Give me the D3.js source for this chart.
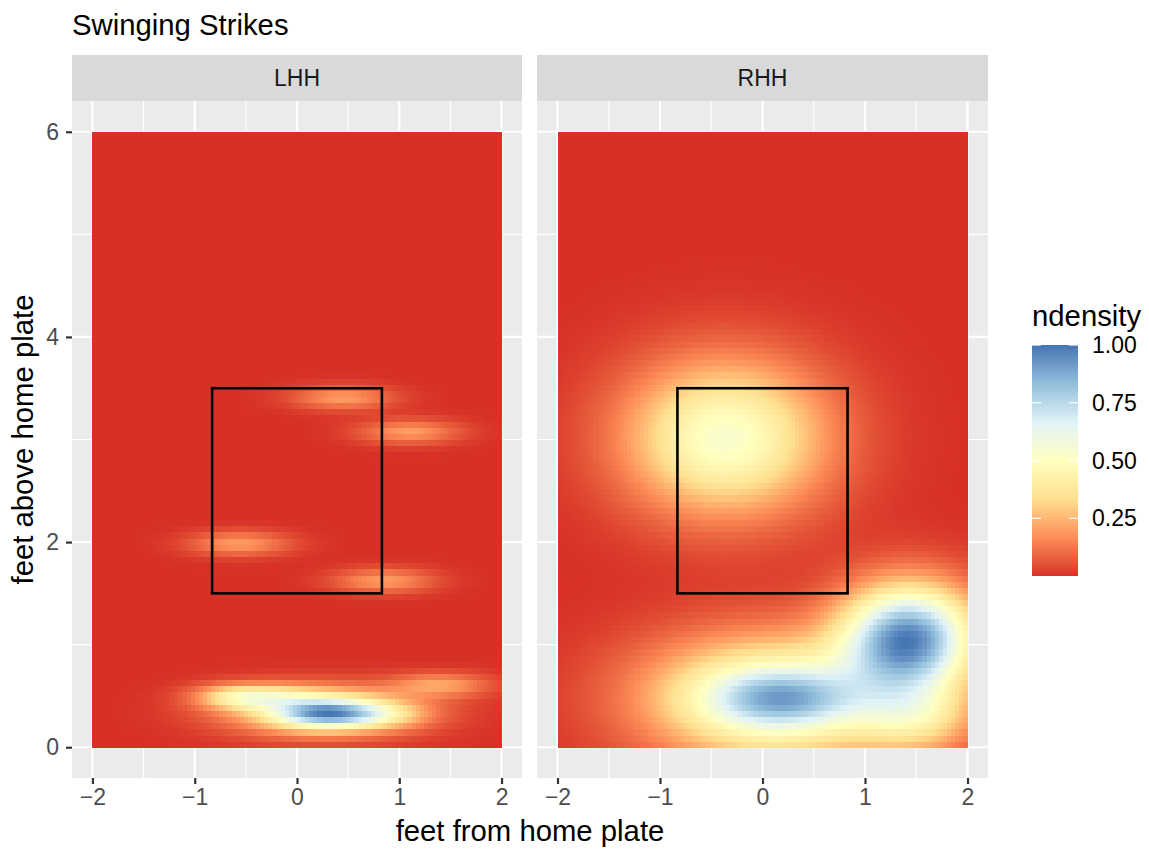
<!DOCTYPE html>
<html>
<head>
<meta charset="utf-8">
<script src="https://cdn.jsdelivr.net/npm/d3@7"></script>
<style>
  html, body { margin: 0; padding: 0; background: #fff; }
  text { font-family: "Liberation Sans", Arial, sans-serif; }
</style>
</head>
<body>
<svg id="chart" width="1149" height="852"></svg>
<script>
// ---------------- data ----------------
const title = "Swinging Strikes";
const panels = ["LHH", "RHH"];
const xTicks = [-2, -1, 0, 1, 2];
const xMinor = [-1.5, -0.5, 0.5, 1.5];
const yTicks = [0, 2, 4, 6];
const yMinor = [1, 3, 5];
const legendTicks = [0.25, 0.5, 0.75, 1.0];
const legendTickLabels = ["0.25", "0.50", "0.75", "1.00"];
const paletteRdYlBu = ["#D73027", "#FC8D59", "#FEE090", "#FFFFBF", "#E0F3F8", "#91BFDB", "#4575B4"];
// strike zone (feet)
const zoneX = [-0.83, 0.83];
const zoneY = [1.5, 3.5];
// density components: [x, y, sdX, sdY, peak]
const lhhComponents = [
  [0.45, 3.41, 0.33, 0.08, 0.18],
  [1.10, 3.08, 0.33, 0.08, 0.18],
  [-0.56, 1.99, 0.33, 0.08, 0.18],
  [0.85, 1.63, 0.33, 0.08, 0.18],
  [1.40, 0.61, 0.33, 0.08, 0.19],
  [0.29, 0.33, 0.33, 0.095, 0.42],
  [0.25, 0.36, 0.60, 0.15, 0.48],
  [-0.60, 0.50, 0.28, 0.08, 0.28],
  [-0.20, 0.50, 0.30, 0.08, 0.16],
  [0.85, 0.32, 0.30, 0.09, 0.15]
];
const rhhComponents = [
  [-0.36, 3.02, 0.67, 0.51, 0.55],
  [0.20, 0.48, 0.50, 0.20, 0.34],
  [0.10, 0.48, 0.85, 0.42, 0.60],
  [1.43, 1.07, 0.45, 0.36, 0.95],
  [1.50, 0.30, 0.40, 0.25, 0.30]
];
const gridN = 100;
const gridX = [-2, 2];
const gridY = [0, 6];

// ---------------- layout ----------------
const svg = d3.select("#chart");
const panelPos = [{x0: 72, x1: 522}, {x0: 537, x1: 988}];
const pTop = 101, pBot = 778, stripTop = 55;
const y = d3.scaleLinear().domain([-0.3, 6.3]).range([pBot, pTop]);
const color = d3.scaleLinear()
  .domain(paletteRdYlBu.map((_, i) => i / (paletteRdYlBu.length - 1)))
  .range(paletteRdYlBu)
  .interpolate(d3.interpolateLab);

function densityGrid(comps) {
  const cells = [];
  const dx = (gridX[1] - gridX[0]) / gridN, dy = (gridY[1] - gridY[0]) / gridN;
  let mx = 0;
  for (let i = 0; i < gridN; i++) {
    for (let j = 0; j < gridN; j++) {
      const cx = gridX[0] + (i + 0.5) * dx, cy = gridY[0] + (j + 0.5) * dy;
      let v = 0;
      for (const c of comps) {
        const a = (cx - c[0]) / c[2], b = (cy - c[1]) / c[3];
        v += c[4] * Math.exp(-0.5 * (a * a + b * b));
      }
      if (v > mx) mx = v;
      cells.push({x0: cx - dx / 2, x1: cx + dx / 2, y0: cy - dy / 2, y1: cy + dy / 2, v});
    }
  }
  cells.forEach(c => c.v = c.v / mx);
  return cells;
}

const comps = [lhhComponents, rhhComponents];
const fmt = d => d3.format("d")(d).replace("-", "\u2212");

panels.forEach((name, k) => {
  const P = panelPos[k];
  const x = d3.scaleLinear().domain([-2.2, 2.2]).range([P.x0, P.x1]);
  const g = svg.append("g");
  g.append("rect").attr("x", P.x0).attr("y", pTop).attr("width", P.x1 - P.x0).attr("height", pBot - pTop).attr("fill", "#EBEBEB");
  g.selectAll(".vminor").data(xMinor).enter().append("line")
    .attr("x1", d => x(d)).attr("x2", d => x(d)).attr("y1", pTop).attr("y2", pBot)
    .attr("stroke", "#fff").attr("stroke-width", 1.1);
  g.selectAll(".hminor").data(yMinor).enter().append("line")
    .attr("y1", d => y(d)).attr("y2", d => y(d)).attr("x1", P.x0).attr("x2", P.x1)
    .attr("stroke", "#fff").attr("stroke-width", 1.1);
  g.selectAll(".vmajor").data(xTicks).enter().append("line")
    .attr("x1", d => x(d)).attr("x2", d => x(d)).attr("y1", pTop).attr("y2", pBot)
    .attr("stroke", "#fff").attr("stroke-width", 2.2);
  g.selectAll(".hmajor").data(yTicks).enter().append("line")
    .attr("y1", d => y(d)).attr("y2", d => y(d)).attr("x1", P.x0).attr("x2", P.x1)
    .attr("stroke", "#fff").attr("stroke-width", 2.2);
  // raster
  const cells = densityGrid(comps[k]);
  g.append("g").attr("shape-rendering", "crispEdges").selectAll("rect").data(cells).enter().append("rect")
    .attr("x", d => x(d.x0)).attr("y", d => y(d.y1))
    .attr("width", d => x(d.x1) - x(d.x0) + 0.6)
    .attr("height", d => y(d.y0) - y(d.y1) + 0.6)
    .attr("fill", d => color(d.v));
  // strike zone
  g.append("rect").attr("x", x(zoneX[0])).attr("y", y(zoneY[1]))
    .attr("width", x(zoneX[1]) - x(zoneX[0])).attr("height", y(zoneY[0]) - y(zoneY[1]))
    .attr("fill", "none").attr("stroke", "#000").attr("stroke-width", 2.6);
  // strip
  g.append("rect").attr("x", P.x0).attr("y", stripTop).attr("width", P.x1 - P.x0).attr("height", pTop - stripTop).attr("fill", "#D9D9D9");
  g.append("text").attr("x", (P.x0 + P.x1) / 2).attr("y", (stripTop + pTop) / 2 + 8)
    .attr("text-anchor", "middle").attr("font-size", 23).attr("fill", "#1A1A1A").text(name);
  // x axis
  const xa = g.append("g").attr("transform", `translate(0,${pBot})`)
    .call(d3.axisBottom(x).tickValues(xTicks).tickSize(6).tickPadding(5).tickFormat(fmt));
  xa.select(".domain").remove();
  xa.selectAll("line").attr("stroke", "#333333").attr("stroke-width", 2.2);
  xa.selectAll("text").attr("fill", "#4D4D4D").attr("font-size", 23).attr("font-family", "Liberation Sans, Arial, sans-serif");
  if (k === 0) {
    const ya = g.append("g").attr("transform", `translate(${P.x0},0)`)
      .call(d3.axisLeft(y).tickValues(yTicks).tickSize(6).tickPadding(7).tickFormat(fmt));
    ya.select(".domain").remove();
    ya.selectAll("line").attr("stroke", "#333333").attr("stroke-width", 2.2);
    ya.selectAll("text").attr("fill", "#4D4D4D").attr("font-size", 23).attr("font-family", "Liberation Sans, Arial, sans-serif");
  }
});

// titles
svg.append("text").attr("x", 72).attr("y", 35).attr("font-size", 29.3).attr("fill", "#000").text(title);
svg.append("text").attr("x", 530).attr("y", 841).attr("text-anchor", "middle").attr("font-size", 29.3).attr("fill", "#000").text("feet from home plate");
svg.append("text").attr("transform", "translate(33,439.5) rotate(-90)").attr("text-anchor", "middle").attr("font-size", 29.3).attr("fill", "#000").text("feet above home plate");

// legend
const lx = 1032, lw = 46, lTop = 345, lBot = 576;
const ly = d3.scaleLinear().domain([0, 1]).range([lBot, lTop]);
const defs = svg.append("defs");
const grad = defs.append("linearGradient").attr("id", "lg").attr("x1", 0).attr("x2", 0).attr("y1", 1).attr("y2", 0);
d3.range(0, 1.0001, 0.02).forEach(t => grad.append("stop").attr("offset", t).attr("stop-color", color(t)));
svg.append("text").attr("x", lx).attr("y", 326).attr("font-size", 29.3).attr("fill", "#000").text("ndensity");
svg.append("rect").attr("x", lx).attr("y", lTop).attr("width", lw).attr("height", lBot - lTop).attr("fill", "url(#lg)");
legendTicks.forEach((t, i) => {
  svg.append("line").attr("x1", lx).attr("x2", lx + 9).attr("y1", ly(t)).attr("y2", ly(t)).attr("stroke", "#fff").attr("stroke-width", 1.2);
  svg.append("line").attr("x1", lx + lw - 9).attr("x2", lx + lw).attr("y1", ly(t)).attr("y2", ly(t)).attr("stroke", "#fff").attr("stroke-width", 1.2);
  svg.append("text").attr("x", 1092).attr("y", ly(t) + 8).attr("font-size", 23).attr("fill", "#000").text(legendTickLabels[i]);
});
</script>
</body>
</html>
